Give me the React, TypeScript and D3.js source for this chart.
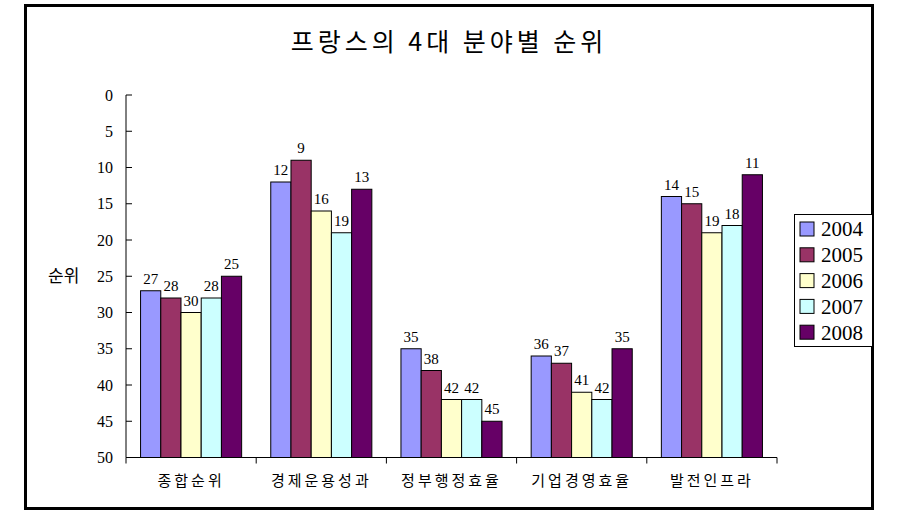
import React from "react";
import * as d3 from "d3";

const categories = ["종합순위", "경제운용성과", "정부행정효율", "기업경영효율", "발전인프라"];
const years = ["2004", "2005", "2006", "2007", "2008"];
const colors = ["#9999FF", "#993366", "#FFFFCC", "#CCFFFF", "#660066"];
// ranks per year, in category order
const r2004 = [27, 12, 35, 36, 14];
const r2005 = [28, 9, 38, 37, 15];
const r2006 = [30, 16, 42, 41, 19];
const r2007 = [28, 19, 42, 42, 18];
const r2008 = [25, 13, 45, 35, 11];
const yTicks = [0, 5, 10, 15, 20, 25, 30, 35, 40, 45, 50];

const series = [r2004, r2005, r2006, r2007, r2008];

const W = 897;
const H = 518;
const plot = { left: 126, right: 777, top: 95, bottom: 457.5 };

const serif = "'Liberation Serif', 'DejaVu Serif', serif";
const kor = "'Noto Sans CJK KR', sans-serif";

export default function App() {
  const x0 = d3
    .scaleBand<string>()
    .domain(categories)
    .range([plot.left, plot.right]);
  const x1 = d3
    .scaleBand<string>()
    .domain(years)
    .range([0, x0.bandwidth()])
    .paddingInner(0)
    .paddingOuter(0.72);
  const y = d3.scaleLinear().domain([0, 50]).range([plot.top, plot.bottom]);

  return (
    <svg
      width={W}
      height={H}
      style={{ position: "absolute", left: 0, top: 0, background: "#fff" }}
    >
      <rect x={25.5} y={5.5} width={847} height={503} fill="#fff" stroke="#000" strokeWidth={3} />

      <text
        x={449}
        y={51}
        textAnchor="middle"
        fontFamily={kor}
        fontSize={25}
        letterSpacing={4}
      >
        프랑스의 4대 분야별 순위
      </text>

      {/* bars */}
      {categories.map((c, ci) => (
        <g key={c} transform={`translate(${x0(c)},0)`}>
          {series.map((s, si) => {
            const v = s[ci];
            const bx = x1(years[si]) as number;
            return (
              <g key={si}>
                <rect
                  x={bx}
                  y={y(v)}
                  width={x1.bandwidth()}
                  height={y(50) - y(v)}
                  fill={colors[si]}
                  stroke="#000"
                  strokeWidth={1}
                />
                <text
                  x={bx + x1.bandwidth() / 2}
                  y={y(v) - 7}
                  textAnchor="middle"
                  fontFamily={serif}
                  fontSize={15}
                >
                  {v}
                </text>
              </g>
            );
          })}
        </g>
      ))}

      {/* y axis */}
      <line x1={plot.left} x2={plot.left} y1={plot.top} y2={plot.bottom} stroke="#000" />
      {yTicks.map((t) => (
        <g key={t}>
          <line x1={plot.left} x2={plot.left + 6} y1={y(t)} y2={y(t)} stroke="#000" />
          <text
            x={plot.left - 13}
            y={y(t)}
            dy="0.35em"
            textAnchor="end"
            fontFamily={serif}
            fontSize={16}
          >
            {t}
          </text>
        </g>
      ))}
      <text x={48} y={y(25)} dy="0.35em" fontFamily={kor} fontSize={17}>
        순위
      </text>

      {/* x axis */}
      <line x1={plot.left} x2={plot.right} y1={plot.bottom} y2={plot.bottom} stroke="#000" />
      {[...categories.map((c) => x0(c) as number), plot.right].map((p, i) => (
        <line key={i} x1={p} x2={p} y1={plot.bottom} y2={plot.bottom + 6} stroke="#000" />
      ))}
      {categories.map((c) => (
        <text
          key={c}
          x={(x0(c) as number) + x0.bandwidth() / 2}
          y={486}
          textAnchor="middle"
          fontFamily={kor}
          fontSize={15}
          letterSpacing={3}
        >
          {c}
        </text>
      ))}

      {/* legend */}
      <rect x={794.5} y={214.5} width={78} height={132} fill="#fff" stroke="#000" />
      {years.map((yr, i) => (
        <g key={yr} transform={`translate(800,${229 + i * 25.8})`}>
          <rect x={0} y={-7} width={14} height={14} fill={colors[i]} stroke="#000" />
          <text x={21} y={0} dy="0.35em" fontFamily={serif} fontSize={21}>
            {yr}
          </text>
        </g>
      ))}
    </svg>
  );
}
